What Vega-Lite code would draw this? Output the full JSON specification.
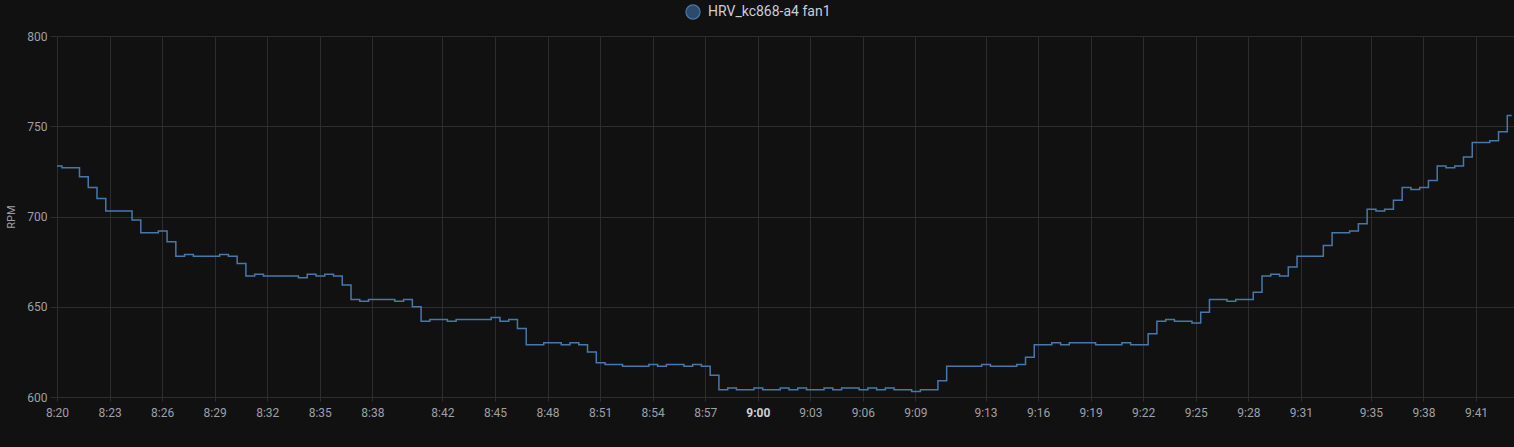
{
  "$schema": "https://vega.github.io/schema/vega-lite/v6.json",
  "width": 1457,
  "height": 361,
  "autosize": {"type": "none"},
  "padding": {"left": 57, "top": 36, "right": 0, "bottom": 50},
  "background": "#111111",
  "data": {
    "values": [
      {"t": "2024-01-01T08:19:47Z", "rpm": 728},
      {"t": "2024-01-01T08:20:17Z", "rpm": 727},
      {"t": "2024-01-01T08:20:47Z", "rpm": 727},
      {"t": "2024-01-01T08:21:17Z", "rpm": 722},
      {"t": "2024-01-01T08:21:47Z", "rpm": 716},
      {"t": "2024-01-01T08:22:17Z", "rpm": 710},
      {"t": "2024-01-01T08:22:47Z", "rpm": 703},
      {"t": "2024-01-01T08:23:17Z", "rpm": 703},
      {"t": "2024-01-01T08:23:47Z", "rpm": 703},
      {"t": "2024-01-01T08:24:17Z", "rpm": 698},
      {"t": "2024-01-01T08:24:47Z", "rpm": 691},
      {"t": "2024-01-01T08:25:17Z", "rpm": 691},
      {"t": "2024-01-01T08:25:47Z", "rpm": 692},
      {"t": "2024-01-01T08:26:17Z", "rpm": 686},
      {"t": "2024-01-01T08:26:47Z", "rpm": 678},
      {"t": "2024-01-01T08:27:17Z", "rpm": 679},
      {"t": "2024-01-01T08:27:47Z", "rpm": 678},
      {"t": "2024-01-01T08:28:17Z", "rpm": 678},
      {"t": "2024-01-01T08:28:47Z", "rpm": 678},
      {"t": "2024-01-01T08:29:17Z", "rpm": 679},
      {"t": "2024-01-01T08:29:47Z", "rpm": 678},
      {"t": "2024-01-01T08:30:17Z", "rpm": 674},
      {"t": "2024-01-01T08:30:47Z", "rpm": 667},
      {"t": "2024-01-01T08:31:17Z", "rpm": 668},
      {"t": "2024-01-01T08:31:47Z", "rpm": 667},
      {"t": "2024-01-01T08:32:17Z", "rpm": 667},
      {"t": "2024-01-01T08:32:47Z", "rpm": 667},
      {"t": "2024-01-01T08:33:17Z", "rpm": 667},
      {"t": "2024-01-01T08:33:47Z", "rpm": 666},
      {"t": "2024-01-01T08:34:17Z", "rpm": 668},
      {"t": "2024-01-01T08:34:47Z", "rpm": 667},
      {"t": "2024-01-01T08:35:17Z", "rpm": 668},
      {"t": "2024-01-01T08:35:47Z", "rpm": 667},
      {"t": "2024-01-01T08:36:17Z", "rpm": 662},
      {"t": "2024-01-01T08:36:47Z", "rpm": 654},
      {"t": "2024-01-01T08:37:17Z", "rpm": 653},
      {"t": "2024-01-01T08:37:47Z", "rpm": 654},
      {"t": "2024-01-01T08:38:17Z", "rpm": 654},
      {"t": "2024-01-01T08:38:47Z", "rpm": 654},
      {"t": "2024-01-01T08:39:17Z", "rpm": 653},
      {"t": "2024-01-01T08:39:47Z", "rpm": 654},
      {"t": "2024-01-01T08:40:17Z", "rpm": 650},
      {"t": "2024-01-01T08:40:47Z", "rpm": 642},
      {"t": "2024-01-01T08:41:17Z", "rpm": 643},
      {"t": "2024-01-01T08:41:47Z", "rpm": 643},
      {"t": "2024-01-01T08:42:17Z", "rpm": 642},
      {"t": "2024-01-01T08:42:47Z", "rpm": 643},
      {"t": "2024-01-01T08:43:17Z", "rpm": 643},
      {"t": "2024-01-01T08:43:47Z", "rpm": 643},
      {"t": "2024-01-01T08:44:17Z", "rpm": 643},
      {"t": "2024-01-01T08:44:47Z", "rpm": 644},
      {"t": "2024-01-01T08:45:17Z", "rpm": 642},
      {"t": "2024-01-01T08:45:47Z", "rpm": 643},
      {"t": "2024-01-01T08:46:17Z", "rpm": 638},
      {"t": "2024-01-01T08:46:47Z", "rpm": 629},
      {"t": "2024-01-01T08:47:17Z", "rpm": 629},
      {"t": "2024-01-01T08:47:47Z", "rpm": 630},
      {"t": "2024-01-01T08:48:17Z", "rpm": 630},
      {"t": "2024-01-01T08:48:47Z", "rpm": 629},
      {"t": "2024-01-01T08:49:17Z", "rpm": 630},
      {"t": "2024-01-01T08:49:47Z", "rpm": 629},
      {"t": "2024-01-01T08:50:17Z", "rpm": 625},
      {"t": "2024-01-01T08:50:47Z", "rpm": 619},
      {"t": "2024-01-01T08:51:17Z", "rpm": 618},
      {"t": "2024-01-01T08:51:47Z", "rpm": 618},
      {"t": "2024-01-01T08:52:17Z", "rpm": 617},
      {"t": "2024-01-01T08:52:47Z", "rpm": 617},
      {"t": "2024-01-01T08:53:17Z", "rpm": 617},
      {"t": "2024-01-01T08:53:47Z", "rpm": 618},
      {"t": "2024-01-01T08:54:17Z", "rpm": 617},
      {"t": "2024-01-01T08:54:47Z", "rpm": 618},
      {"t": "2024-01-01T08:55:17Z", "rpm": 618},
      {"t": "2024-01-01T08:55:47Z", "rpm": 617},
      {"t": "2024-01-01T08:56:17Z", "rpm": 618},
      {"t": "2024-01-01T08:56:47Z", "rpm": 617},
      {"t": "2024-01-01T08:57:17Z", "rpm": 612},
      {"t": "2024-01-01T08:57:47Z", "rpm": 604},
      {"t": "2024-01-01T08:58:17Z", "rpm": 605},
      {"t": "2024-01-01T08:58:47Z", "rpm": 604},
      {"t": "2024-01-01T08:59:17Z", "rpm": 604},
      {"t": "2024-01-01T08:59:47Z", "rpm": 605},
      {"t": "2024-01-01T09:00:17Z", "rpm": 604},
      {"t": "2024-01-01T09:00:47Z", "rpm": 604},
      {"t": "2024-01-01T09:01:17Z", "rpm": 605},
      {"t": "2024-01-01T09:01:47Z", "rpm": 604},
      {"t": "2024-01-01T09:02:17Z", "rpm": 605},
      {"t": "2024-01-01T09:02:47Z", "rpm": 604},
      {"t": "2024-01-01T09:03:17Z", "rpm": 604},
      {"t": "2024-01-01T09:03:47Z", "rpm": 605},
      {"t": "2024-01-01T09:04:17Z", "rpm": 604},
      {"t": "2024-01-01T09:04:47Z", "rpm": 605},
      {"t": "2024-01-01T09:05:17Z", "rpm": 605},
      {"t": "2024-01-01T09:05:47Z", "rpm": 604},
      {"t": "2024-01-01T09:06:17Z", "rpm": 605},
      {"t": "2024-01-01T09:06:47Z", "rpm": 604},
      {"t": "2024-01-01T09:07:17Z", "rpm": 605},
      {"t": "2024-01-01T09:07:47Z", "rpm": 604},
      {"t": "2024-01-01T09:08:17Z", "rpm": 604},
      {"t": "2024-01-01T09:08:47Z", "rpm": 603},
      {"t": "2024-01-01T09:09:17Z", "rpm": 604},
      {"t": "2024-01-01T09:09:47Z", "rpm": 604},
      {"t": "2024-01-01T09:10:17Z", "rpm": 609},
      {"t": "2024-01-01T09:10:47Z", "rpm": 617},
      {"t": "2024-01-01T09:11:17Z", "rpm": 617},
      {"t": "2024-01-01T09:11:47Z", "rpm": 617},
      {"t": "2024-01-01T09:12:17Z", "rpm": 617},
      {"t": "2024-01-01T09:12:47Z", "rpm": 618},
      {"t": "2024-01-01T09:13:17Z", "rpm": 617},
      {"t": "2024-01-01T09:13:47Z", "rpm": 617},
      {"t": "2024-01-01T09:14:17Z", "rpm": 617},
      {"t": "2024-01-01T09:14:47Z", "rpm": 618},
      {"t": "2024-01-01T09:15:17Z", "rpm": 622},
      {"t": "2024-01-01T09:15:47Z", "rpm": 629},
      {"t": "2024-01-01T09:16:17Z", "rpm": 629},
      {"t": "2024-01-01T09:16:47Z", "rpm": 630},
      {"t": "2024-01-01T09:17:17Z", "rpm": 629},
      {"t": "2024-01-01T09:17:47Z", "rpm": 630},
      {"t": "2024-01-01T09:18:17Z", "rpm": 630},
      {"t": "2024-01-01T09:18:47Z", "rpm": 630},
      {"t": "2024-01-01T09:19:17Z", "rpm": 629},
      {"t": "2024-01-01T09:19:47Z", "rpm": 629},
      {"t": "2024-01-01T09:20:17Z", "rpm": 629},
      {"t": "2024-01-01T09:20:47Z", "rpm": 630},
      {"t": "2024-01-01T09:21:17Z", "rpm": 629},
      {"t": "2024-01-01T09:21:47Z", "rpm": 629},
      {"t": "2024-01-01T09:22:17Z", "rpm": 635},
      {"t": "2024-01-01T09:22:47Z", "rpm": 642},
      {"t": "2024-01-01T09:23:17Z", "rpm": 643},
      {"t": "2024-01-01T09:23:47Z", "rpm": 642},
      {"t": "2024-01-01T09:24:17Z", "rpm": 642},
      {"t": "2024-01-01T09:24:47Z", "rpm": 641},
      {"t": "2024-01-01T09:25:17Z", "rpm": 647},
      {"t": "2024-01-01T09:25:47Z", "rpm": 654},
      {"t": "2024-01-01T09:26:17Z", "rpm": 654},
      {"t": "2024-01-01T09:26:47Z", "rpm": 653},
      {"t": "2024-01-01T09:27:17Z", "rpm": 654},
      {"t": "2024-01-01T09:27:47Z", "rpm": 654},
      {"t": "2024-01-01T09:28:17Z", "rpm": 658},
      {"t": "2024-01-01T09:28:47Z", "rpm": 667},
      {"t": "2024-01-01T09:29:17Z", "rpm": 668},
      {"t": "2024-01-01T09:29:47Z", "rpm": 667},
      {"t": "2024-01-01T09:30:17Z", "rpm": 672},
      {"t": "2024-01-01T09:30:47Z", "rpm": 678},
      {"t": "2024-01-01T09:31:17Z", "rpm": 678},
      {"t": "2024-01-01T09:31:47Z", "rpm": 678},
      {"t": "2024-01-01T09:32:17Z", "rpm": 684},
      {"t": "2024-01-01T09:32:47Z", "rpm": 691},
      {"t": "2024-01-01T09:33:17Z", "rpm": 691},
      {"t": "2024-01-01T09:33:47Z", "rpm": 692},
      {"t": "2024-01-01T09:34:17Z", "rpm": 696},
      {"t": "2024-01-01T09:34:47Z", "rpm": 704},
      {"t": "2024-01-01T09:35:17Z", "rpm": 703},
      {"t": "2024-01-01T09:35:47Z", "rpm": 704},
      {"t": "2024-01-01T09:36:17Z", "rpm": 709},
      {"t": "2024-01-01T09:36:47Z", "rpm": 716},
      {"t": "2024-01-01T09:37:17Z", "rpm": 715},
      {"t": "2024-01-01T09:37:47Z", "rpm": 716},
      {"t": "2024-01-01T09:38:17Z", "rpm": 720},
      {"t": "2024-01-01T09:38:47Z", "rpm": 728},
      {"t": "2024-01-01T09:39:17Z", "rpm": 727},
      {"t": "2024-01-01T09:39:47Z", "rpm": 728},
      {"t": "2024-01-01T09:40:17Z", "rpm": 733},
      {"t": "2024-01-01T09:40:47Z", "rpm": 741},
      {"t": "2024-01-01T09:41:17Z", "rpm": 741},
      {"t": "2024-01-01T09:41:47Z", "rpm": 742},
      {"t": "2024-01-01T09:42:17Z", "rpm": 747},
      {"t": "2024-01-01T09:42:47Z", "rpm": 756},
      {"t": "2024-01-01T09:43:02Z", "rpm": 756}
    ]
  },
  "mark": {"type": "line", "interpolate": "step-after", "clip": true, "strokeWidth": 1.5},
  "encoding": {
    "x": {
      "field": "t",
      "type": "temporal",
      "scale": {
        "type": "utc",
        "domain": [
          {"year": 2024, "month": 1, "date": 1, "hours": 8, "minutes": 20, "seconds": 0, "utc": true},
          {"year": 2024, "month": 1, "date": 1, "hours": 9, "minutes": 43, "seconds": 10, "utc": true}
        ]
      },
      "axis": {
        "title": null,
        "format": "%-H:%M",
        "labelFlush": false,
        "labelOverlap": false,
        "tickSize": 4,
        "labelPadding": 6,
        "labelFontWeight": {"expr": "utcminutes(datum.value) == 0 ? 'bold' : 'normal'"},
        "labelColor": {"expr": "utcminutes(datum.value) == 0 ? '#cfcfd4' : '#9fa0a7'"},
        "values": [
          {"year": 2024, "month": 1, "date": 1, "hours": 8, "minutes": 20, "utc": true},
          {"year": 2024, "month": 1, "date": 1, "hours": 8, "minutes": 23, "utc": true},
          {"year": 2024, "month": 1, "date": 1, "hours": 8, "minutes": 26, "utc": true},
          {"year": 2024, "month": 1, "date": 1, "hours": 8, "minutes": 29, "utc": true},
          {"year": 2024, "month": 1, "date": 1, "hours": 8, "minutes": 32, "utc": true},
          {"year": 2024, "month": 1, "date": 1, "hours": 8, "minutes": 35, "utc": true},
          {"year": 2024, "month": 1, "date": 1, "hours": 8, "minutes": 38, "utc": true},
          {"year": 2024, "month": 1, "date": 1, "hours": 8, "minutes": 42, "utc": true},
          {"year": 2024, "month": 1, "date": 1, "hours": 8, "minutes": 45, "utc": true},
          {"year": 2024, "month": 1, "date": 1, "hours": 8, "minutes": 48, "utc": true},
          {"year": 2024, "month": 1, "date": 1, "hours": 8, "minutes": 51, "utc": true},
          {"year": 2024, "month": 1, "date": 1, "hours": 8, "minutes": 54, "utc": true},
          {"year": 2024, "month": 1, "date": 1, "hours": 8, "minutes": 57, "utc": true},
          {"year": 2024, "month": 1, "date": 1, "hours": 9, "minutes": 0, "utc": true},
          {"year": 2024, "month": 1, "date": 1, "hours": 9, "minutes": 3, "utc": true},
          {"year": 2024, "month": 1, "date": 1, "hours": 9, "minutes": 6, "utc": true},
          {"year": 2024, "month": 1, "date": 1, "hours": 9, "minutes": 9, "utc": true},
          {"year": 2024, "month": 1, "date": 1, "hours": 9, "minutes": 13, "utc": true},
          {"year": 2024, "month": 1, "date": 1, "hours": 9, "minutes": 16, "utc": true},
          {"year": 2024, "month": 1, "date": 1, "hours": 9, "minutes": 19, "utc": true},
          {"year": 2024, "month": 1, "date": 1, "hours": 9, "minutes": 22, "utc": true},
          {"year": 2024, "month": 1, "date": 1, "hours": 9, "minutes": 25, "utc": true},
          {"year": 2024, "month": 1, "date": 1, "hours": 9, "minutes": 28, "utc": true},
          {"year": 2024, "month": 1, "date": 1, "hours": 9, "minutes": 31, "utc": true},
          {"year": 2024, "month": 1, "date": 1, "hours": 9, "minutes": 35, "utc": true},
          {"year": 2024, "month": 1, "date": 1, "hours": 9, "minutes": 38, "utc": true},
          {"year": 2024, "month": 1, "date": 1, "hours": 9, "minutes": 41, "utc": true}
        ]
      }
    },
    "y": {
      "field": "rpm",
      "type": "quantitative",
      "scale": {"domain": [600, 800], "nice": false, "zero": false},
      "axis": {
        "title": "RPM",
        "values": [600, 650, 700, 750, 800],
        "tickSize": 7,
        "labelPadding": 3,
        "titlePadding": 10,
        "titleFontSize": 11
      }
    },
    "color": {
      "datum": "HRV_kc868-a4 fan1",
      "scale": {"range": ["#4878aa"]},
      "legend": {
        "title": null,
        "orient": "none",
        "legendX": 628,
        "legendY": -32,
        "padding": 0,
        "symbolType": "circle",
        "symbolSize": 200,
        "symbolFillColor": "#2c4a6b",
        "symbolStrokeColor": "#4e7cb0",
        "symbolStrokeWidth": 1.2,
        "symbolOpacity": 1,
        "labelFont": "Roboto",
        "labelFontSize": 14,
        "labelColor": "#ccccdc",
        "labelOffset": 7
      }
    }
  },
  "config": {
    "view": {"stroke": null},
    "axis": {
      "domain": false,
      "gridColor": "#2d2d2f",
      "gridOpacity": 1,
      "tickColor": "#2d2d2f",
      "labelColor": "#9fa0a7",
      "labelFont": "Roboto",
      "labelFontSize": 12,
      "titleFont": "Roboto",
      "titleColor": "#9fa0a7",
      "titleFontWeight": "normal"
    }
  }
}
